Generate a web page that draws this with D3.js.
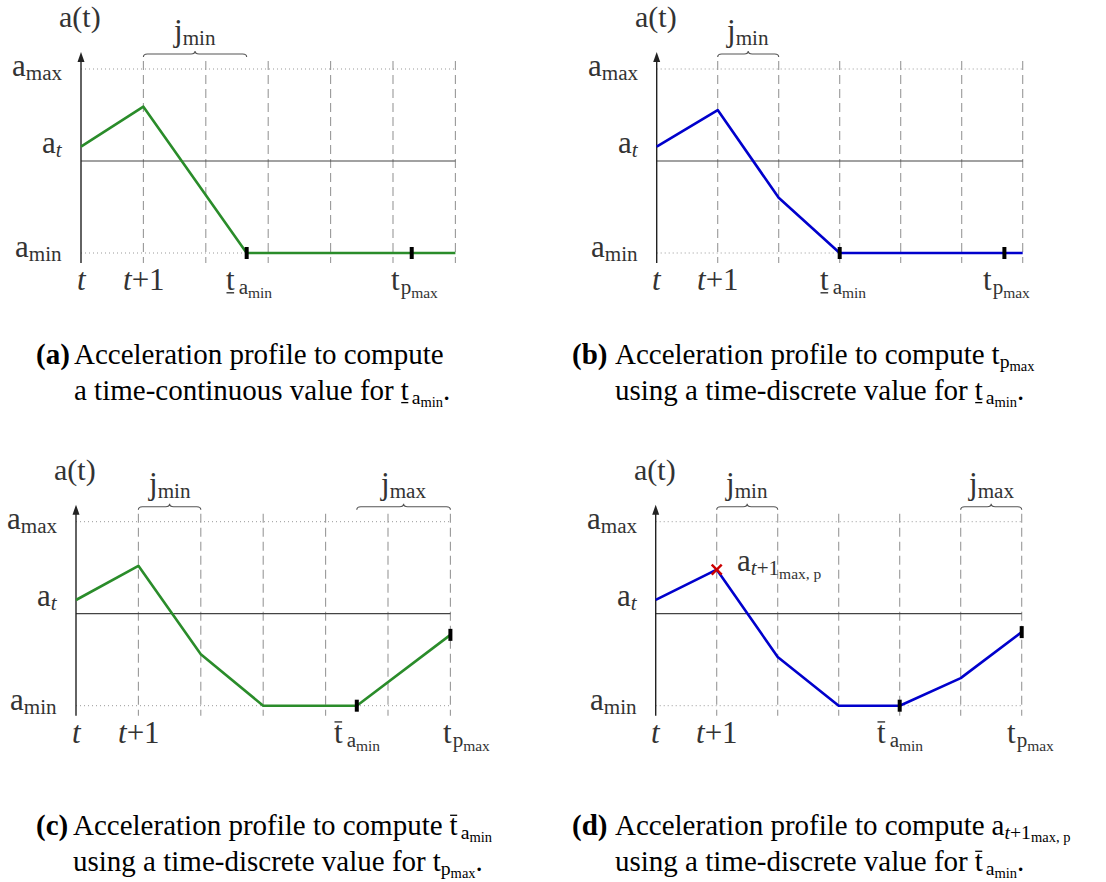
<!DOCTYPE html>
<html>
<head>
<meta charset="utf-8">
<title>Acceleration profiles</title>
<script src="https://cdn.jsdelivr.net/npm/d3@7"></script>
<style>
  body { margin: 0; background: #fff; }
</style>
</head>
<body>
<svg id="chart" width="1106" height="882" font-family="Liberation Serif"></svg>
<script>
// time grid (dashed verticals)
const gridSteps = [1, 2, 3, 4, 5, 6];

// (a) time-continuous t_amin
const timeA = [0, 1, 2.655, 6];
const accA  = [0.156, 0.59, -1, -1];
const marksA = [2.655, 5.3];
const xLabelPosA = [0, 1, 2.7, 5.35];
const xLabelKeyA = ["t", "t1", "tUnder", "tP"];
const bracesA = [[1, 2.655, "jmin"]];

// (b) time-discrete t_amin -> t_pmax
const timeB = [0, 1, 2, 3, 6];
const accB  = [0.156, 0.554, -0.40, -1, -1];
const marksB = [3, 5.7];
const xLabelPosB = [0, 1, 3.05, 5.73];
const xLabelKeyB = ["t", "t1", "tUnder", "tP"];
const bracesB = [[1, 2, "jmin"]];

// (c) bar t_amin from discrete t_pmax
const timeC = [0, 1, 2, 3, 4.5, 6];
const accC  = [0.149, 0.52, -0.44, -1, -1, -0.23];
const marksC = [4.5, 6];
const xLabelPosC = [0, 1, 4.5, 6.25];
const xLabelKeyC = ["t", "t1", "tBar", "tP"];
const bracesC = [[1, 2, "jmin"], [4.5, 6, "jmax"]];

// (d) a_{t+1 max,p} from discrete bar t_amin
const timeD = [0, 1, 2, 3, 4, 5, 6];
const accD  = [0.15, 0.48, -0.47, -1, -1, -0.70, -0.20];
const marksD = [4, 6];
const xLabelPosD = [0, 1, 4, 6.14];
const xLabelKeyD = ["t", "t1", "tBar", "tP"];
const bracesD = [[1, 2, "jmin"], [5, 6, "jmax"]];
const crossD = [1, 0.48];

const GREEN = "#2a8c2a", BLUE = "#0000cc", RED = "#cc0000", INK = "#333";

const svg = d3.select("#chart");

// draws a math-like label piece by piece, returns width
function mathText(g, x, y, pieces, anchor, color, base) {
  const sizes = [base, base * 0.68, base * 0.5];
  const shifts = [0, base * 0.13, base * 0.25];
  const grp = g.append("g");
  let cx = 0;
  pieces.forEach(p => {
    const lvl = p.lvl || 0;
    if (p.gap) cx += p.gap;
    if (p.s === undefined) return;
    const t = grp.append("text")
      .attr("x", cx).attr("y", shifts[lvl])
      .attr("font-family", "Liberation Serif")
      .attr("font-size", Math.round(sizes[lvl] * 10) / 10)
      .attr("fill", color)
      .text(p.s);
    if (p.it) t.attr("font-style", "italic");
    if (p.bold) t.attr("font-weight", "bold");
    const w = t.node().getComputedTextLength();
    if (p.deco === "under") {
      grp.append("line").attr("x1", cx + 0.5).attr("x2", cx + w - 0.5)
        .attr("y1", base * 0.09).attr("y2", base * 0.09)
        .attr("stroke", color).attr("stroke-width", base * 0.045);
    }
    if (p.deco === "over") {
      grp.append("line").attr("x1", cx + 0.5).attr("x2", cx + w - 0.5)
        .attr("y1", -base * 0.68).attr("y2", -base * 0.68)
        .attr("stroke", color).attr("stroke-width", base * 0.045);
    }
    cx += w;
  });
  const shift = anchor === "middle" ? -cx / 2 : anchor === "end" ? -cx : 0;
  grp.attr("transform", `translate(${Math.round(x + shift)},${Math.round(y)})`);
  return cx;
}

const LABELS = {
  aT:     [{s: "a(t)"}],
  amax:   [{s: "a"}, {s: "max", lvl: 1}],
  at:     [{s: "a"}, {s: "t", lvl: 1, it: true}],
  amin:   [{s: "a"}, {s: "min", lvl: 1}],
  jmin:   [{s: "j"}, {s: "min", lvl: 1}],
  jmax:   [{s: "j"}, {s: "max", lvl: 1}],
  t:      [{s: "t", it: true}],
  t1:     [{s: "t", it: true}, {s: "+1"}],
  tUnder: [{s: "t", deco: "under"}, {gap: 4}, {s: "a", lvl: 1}, {s: "min", lvl: 2}],
  tBar:   [{s: "t", deco: "over"}, {gap: 4}, {s: "a", lvl: 1}, {s: "min", lvl: 2}],
  tP:     [{s: "t"}, {gap: 1}, {s: "p", lvl: 1}, {s: "max", lvl: 2}],
  aPeak:  [{s: "a"}, {s: "t", lvl: 1, it: true}, {s: "+1", lvl: 1}, {s: "max, p", lvl: 2}]
};

function brace(g, x1, x2, y) {
  const m = (x1 + x2) / 2;
  const p = d3.path();
  p.moveTo(x1, y + 3);
  p.quadraticCurveTo(x1, y, x1 + 4, y);
  p.lineTo(m - 4, y);
  p.quadraticCurveTo(m, y, m, y - 3);
  p.quadraticCurveTo(m, y, m + 4, y);
  p.lineTo(x2 - 4, y);
  p.quadraticCurveTo(x2, y, x2, y + 3);
  g.append("path").attr("d", p.toString())
    .attr("fill", "none").attr("stroke", "#555").attr("stroke-width", 1.1);
}

function panel(cfg) {
  const g = svg.append("g");
  const x = d3.scaleLinear().domain([0, 6]).range([cfg.ox, cfg.ox + 6 * cfg.step]);
  const y = d3.scaleLinear().domain([-1, 1]).range([cfg.zeroY + 92, cfg.zeroY - 92]);
  const top = y(1), bot = y(-1);

  // dotted a_max / a_min guides
  [1, -1].forEach(v => {
    g.append("line").attr("x1", x(0)).attr("x2", x(6)).attr("y1", y(v)).attr("y2", y(v))
      .attr("stroke", "#999").attr("stroke-width", 1).attr("stroke-dasharray", "1,3");
  });
  // dashed time grid
  g.selectAll(".grid").data(gridSteps).join("line")
    .attr("x1", d => x(d)).attr("x2", d => x(d))
    .attr("y1", top - 8).attr("y2", bot + 10)
    .attr("stroke", "#999").attr("stroke-width", 1.1).attr("stroke-dasharray", "9,5");
  // zero line
  g.append("line").attr("x1", x(0)).attr("x2", x(6)).attr("y1", y(0)).attr("y2", y(0))
    .attr("stroke", "#444").attr("stroke-width", 1.2);
  // vertical axis with arrow
  g.append("line").attr("x1", x(0)).attr("x2", x(0)).attr("y1", bot + 10).attr("y2", top - 10)
    .attr("stroke", "#222").attr("stroke-width", 1.4);
  g.append("path")
    .attr("d", `M${x(0)},${top - 17} L${x(0) - 3.5},${top - 7} L${x(0) + 3.5},${top - 7} Z`)
    .attr("fill", "#222");

  // profile
  const pts = cfg.time.map((t, i) => [t, cfg.acc[i]]);
  g.append("path").datum(pts)
    .attr("d", d3.line().x(d => x(d[0])).y(d => y(d[1])))
    .attr("fill", "none").attr("stroke", cfg.color).attr("stroke-width", 2.6)
    .attr("stroke-linejoin", "round");

  // black marks on the profile
  const interp = t => {
    for (let i = 1; i < cfg.time.length; i++) {
      if (t <= cfg.time[i]) {
        const f = (t - cfg.time[i - 1]) / (cfg.time[i] - cfg.time[i - 1]);
        return cfg.acc[i - 1] + f * (cfg.acc[i] - cfg.acc[i - 1]);
      }
    }
    return cfg.acc[cfg.acc.length - 1];
  };
  g.selectAll(".mark").data(cfg.marks).join("rect")
    .attr("x", d => x(d) - 2).attr("y", d => y(interp(d)) - 6)
    .attr("width", 4).attr("height", 12).attr("fill", "#000");

  // red cross
  if (cfg.cross) {
    const cxp = x(cfg.cross[0]), cyp = y(cfg.cross[1]);
    [[-5, -5, 5, 5], [-5, 5, 5, -5]].forEach(s => {
      g.append("line").attr("x1", cxp + s[0]).attr("y1", cyp + s[1])
        .attr("x2", cxp + s[2]).attr("y2", cyp + s[3])
        .attr("stroke", RED).attr("stroke-width", 2.4);
    });
    mathText(g, cxp + 20, cyp + 1, LABELS.aPeak, "start", INK, 31);
  }

  // braces
  cfg.braces.forEach(b => {
    brace(g, x(b[0]), x(b[1]), top - 15);
    mathText(g, (x(b[0]) + x(b[1])) / 2, top - 28, LABELS[b[2]], "middle", INK, 31);
  });

  // labels
  mathText(g, x(0) - 1, top - 42, LABELS.aT, "middle", INK, 30);
  mathText(g, x(0) - 19, top + 7, LABELS.amax, "end", INK, 31);
  mathText(g, x(0) - 19, y(cfg.acc[0]) + 6, LABELS.at, "end", INK, 31);
  mathText(g, x(0) - 19, bot + 4, LABELS.amin, "end", INK, 31);
  cfg.xPos.forEach((p, i) => {
    mathText(g, x(p), bot + 37, LABELS[cfg.xKey[i]], "middle", INK, 31);
  });
}

panel({ox: 81, step: 62.4, zeroY: 161, color: GREEN, time: timeA, acc: accA, marks: marksA,
       braces: bracesA, xPos: xLabelPosA, xKey: xLabelKeyA});
panel({ox: 656.7, step: 61, zeroY: 161, color: BLUE, time: timeB, acc: accB, marks: marksB,
       braces: bracesB, xPos: xLabelPosB, xKey: xLabelKeyB});
panel({ox: 76, step: 62.4, zeroY: 613.7, color: GREEN, time: timeC, acc: accC, marks: marksC,
       braces: bracesC, xPos: xLabelPosC, xKey: xLabelKeyC});
panel({ox: 655.7, step: 61, zeroY: 613.7, color: BLUE, time: timeD, acc: accD, marks: marksD,
       braces: bracesD, xPos: xLabelPosD, xKey: xLabelKeyD, cross: crossD});

// captions
const CAP = 29;
const sub = (s, lvl, it) => ({s: s, lvl: lvl, it: it});
const captions = [
  {tag: "(a)", tx: 36, x: 74, y: 364, lines: [
    [{s: "Acceleration profile to compute"}],
    [{s: "a time-continuous value for"}, {gap: 7}, {s: "t", deco: "under"}, {gap: 3}, sub("a", 1), sub("min", 2), {s: "."}]
  ]},
  {tag: "(b)", tx: 572, x: 615, y: 364, lines: [
    [{s: "Acceleration profile to compute"}, {gap: 7}, {s: "t"}, sub("p", 1), sub("max", 2)],
    [{s: "using a time-discrete value for"}, {gap: 7}, {s: "t", deco: "under"}, {gap: 3}, sub("a", 1), sub("min", 2), {s: "."}]
  ]},
  {tag: "(c)", tx: 36, x: 73, y: 835, lines: [
    [{s: "Acceleration profile to compute"}, {gap: 7}, {s: "t", deco: "over"}, {gap: 3}, sub("a", 1), sub("min", 2)],
    [{s: "using a time-discrete value for"}, {gap: 7}, {s: "t"}, sub("p", 1), sub("max", 2), {s: "."}]
  ]},
  {tag: "(d)", tx: 572, x: 615, y: 835, lines: [
    [{s: "Acceleration profile to compute"}, {gap: 7}, {s: "a"}, sub("t", 1, true), sub("+1", 1), sub("max, p", 2)],
    [{s: "using a time-discrete value for"}, {gap: 7}, {s: "t", deco: "over"}, {gap: 3}, sub("a", 1), sub("min", 2), {s: "."}]
  ]}
];
captions.forEach(c => {
  mathText(svg, c.tx, c.y, [{s: c.tag, bold: true}], "start", "#000", CAP);
  c.lines.forEach((ln, i) => mathText(svg, c.x, c.y + i * 36, ln, "start", "#000", CAP));
});
</script>
</body>
</html>
